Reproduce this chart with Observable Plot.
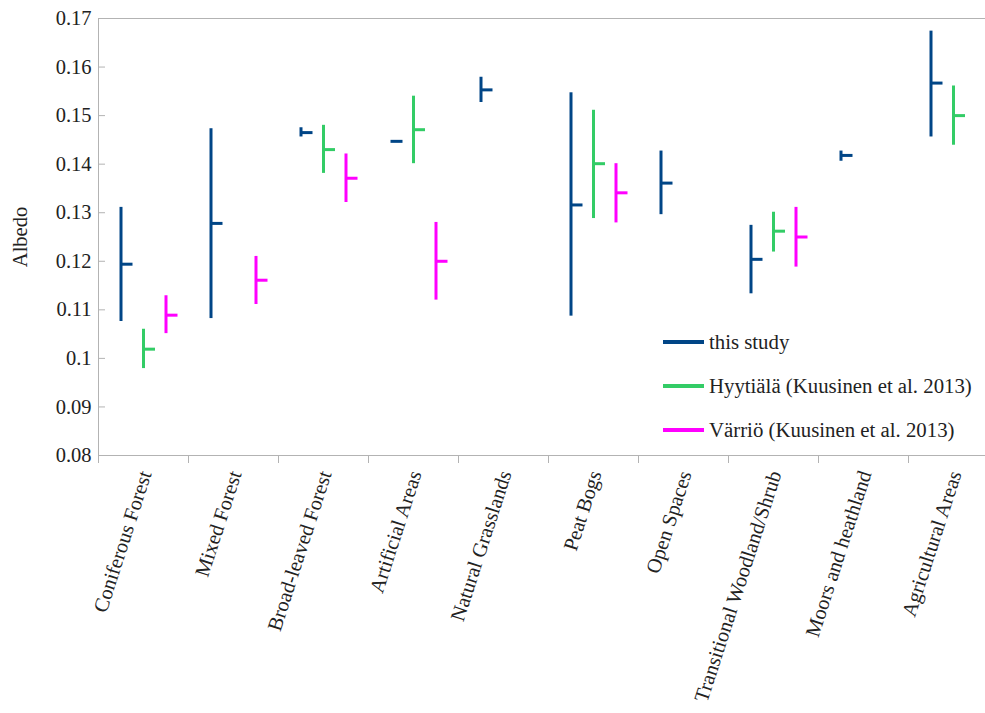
<!DOCTYPE html>
<html><head><meta charset="utf-8">
<script src="https://cdn.jsdelivr.net/npm/d3@7"></script>
<script src="https://cdn.jsdelivr.net/npm/@observablehq/plot@0.6"></script>
<style>
html,body{margin:0;padding:0;background:#fff;overflow:hidden;}
#wrap{position:relative;width:985px;height:713px;overflow:hidden;}
#wrap svg{max-width:none !important;display:block;}
.legend{position:absolute;left:663px;top:320px;font-family:"Liberation Serif","Times New Roman",serif;font-size:20.8px;color:#222;}
.row{display:flex;align-items:center;height:44px;white-space:nowrap;}
.sw{width:41px;height:4px;margin-right:5px;}
</style></head><body><div id="wrap"></div>
<script>
const categories = ["Coniferous Forest","Mixed Forest","Broad-leaved Forest","Artificial Areas","Natural Grasslands","Peat Bogs","Open Spaces","Transitional Woodland/Shrub","Moors and heathland","Agricultural Areas"];
const seriesNames = ["this study","Hyytiälä (Kuusinen et al. 2013)","Värriö (Kuusinen et al. 2013)"];
const seriesColors = ["#004586","#33cc66","#ff00ff"];

const thisStudyMin  = [0.1076,0.1082,0.1456,0.1447,0.1527,0.1087,0.1296,0.1133,0.1406,0.1456];
const thisStudyMax  = [0.1311,0.1473,0.1475,0.1447,0.1579,0.1547,0.1427,0.1274,0.1427,0.1674];
const thisStudyMean = [0.1194,0.1278,0.1465,0.1447,0.1553,0.1316,0.1361,0.1204,0.1418,0.1567];

const hyytialaMin  = [0.0979,null,0.1381,0.1401,null,0.1288,null,0.1219,null,0.1439];
const hyytialaMax  = [0.1060,null,0.1480,0.1540,null,0.1511,null,0.1301,null,0.1561];
const hyytialaMean = [0.1019,null,0.1430,0.1471,null,0.1401,null,0.1262,null,0.1500];

const varrioMin  = [0.1051,0.1111,0.1321,0.1120,null,0.1279,null,0.1188,null,null];
const varrioMax  = [0.1129,0.1210,0.1421,0.1280,null,0.1401,null,0.1311,null,null];
const varrioMean = [0.1089,0.1161,0.1371,0.1200,null,0.1341,null,0.1250,null,null];

const yTicks = [0.08,0.09,0.10,0.11,0.12,0.13,0.14,0.15,0.16,0.17];

const mins = [thisStudyMin, hyytialaMin, varrioMin];
const maxs = [thisStudyMax, hyytialaMax, varrioMax];
const means = [thisStudyMean, hyytialaMean, varrioMean];

const rows = [];
seriesNames.forEach((s, i) => categories.forEach((c, j) => {
  if (means[i][j] != null) rows.push({category: c, series: s, min: mins[i][j], max: maxs[i][j], mean: means[i][j]});
}));

// layout (pixels)
const offsets = [-22.5, 0, 22.5];
const halfBand = 45, tickLen = 12;

const marks = [
  Plot.frame({stroke: "#b3b3b3"}),
  Plot.axisY({ticks: yTicks, tickSize: 0, tickPadding: 7, tickFormat: d3.format("~g"), label: "Albedo", labelAnchor: "center", labelOffset: 86, labelArrow: "none"}),
  Plot.axisY({ticks: yTicks, tickSize: 7, dx: 7, fill: "none", label: null, stroke: "#b3b3b3"}),
  Plot.axisX({tickSize: 8, dx: -halfBand, fill: "none", label: null, stroke: "#b3b3b3"}),
  Plot.axisX({tickSize: 0, tickPadding: 16, tickRotate: -72, label: null, dx: 2})
];
seriesNames.forEach((s, i) => {
  const d = rows.filter(r => r.series === s);
  marks.push(Plot.ruleX(d, {x: "category", y1: "min", y2: "max", stroke: seriesColors[i], strokeWidth: 3, dx: offsets[i]}));
  marks.push(Plot.tickY(d, {x: "category", y: "mean", stroke: seriesColors[i], strokeWidth: 3,
    insetLeft: halfBand + offsets[i], insetRight: halfBand - offsets[i] - tickLen}));
});

const chart = Plot.plot({
  width: 1000, height: 713,
  marginLeft: 98, marginRight: 2, marginTop: 18, marginBottom: 258,
  style: {fontFamily: "'Liberation Serif', 'Times New Roman', serif", fontSize: "20.5px", color: "#222", background: "#fff"},
  x: {type: "band", domain: categories, padding: 0, axis: null},
  y: {domain: [0.08, 0.17], axis: null},
  marks
});
const wrap = document.getElementById("wrap");
wrap.appendChild(chart);

const legend = document.createElement("div");
legend.className = "legend";
seriesNames.forEach((s, i) => {
  const row = document.createElement("div");
  row.className = "row";
  const sw = document.createElement("span");
  sw.className = "sw"; sw.style.background = seriesColors[i];
  const t = document.createElement("span");
  t.textContent = s;
  row.appendChild(sw); row.appendChild(t);
  legend.appendChild(row);
});
wrap.appendChild(legend);
</script>
</body></html>
